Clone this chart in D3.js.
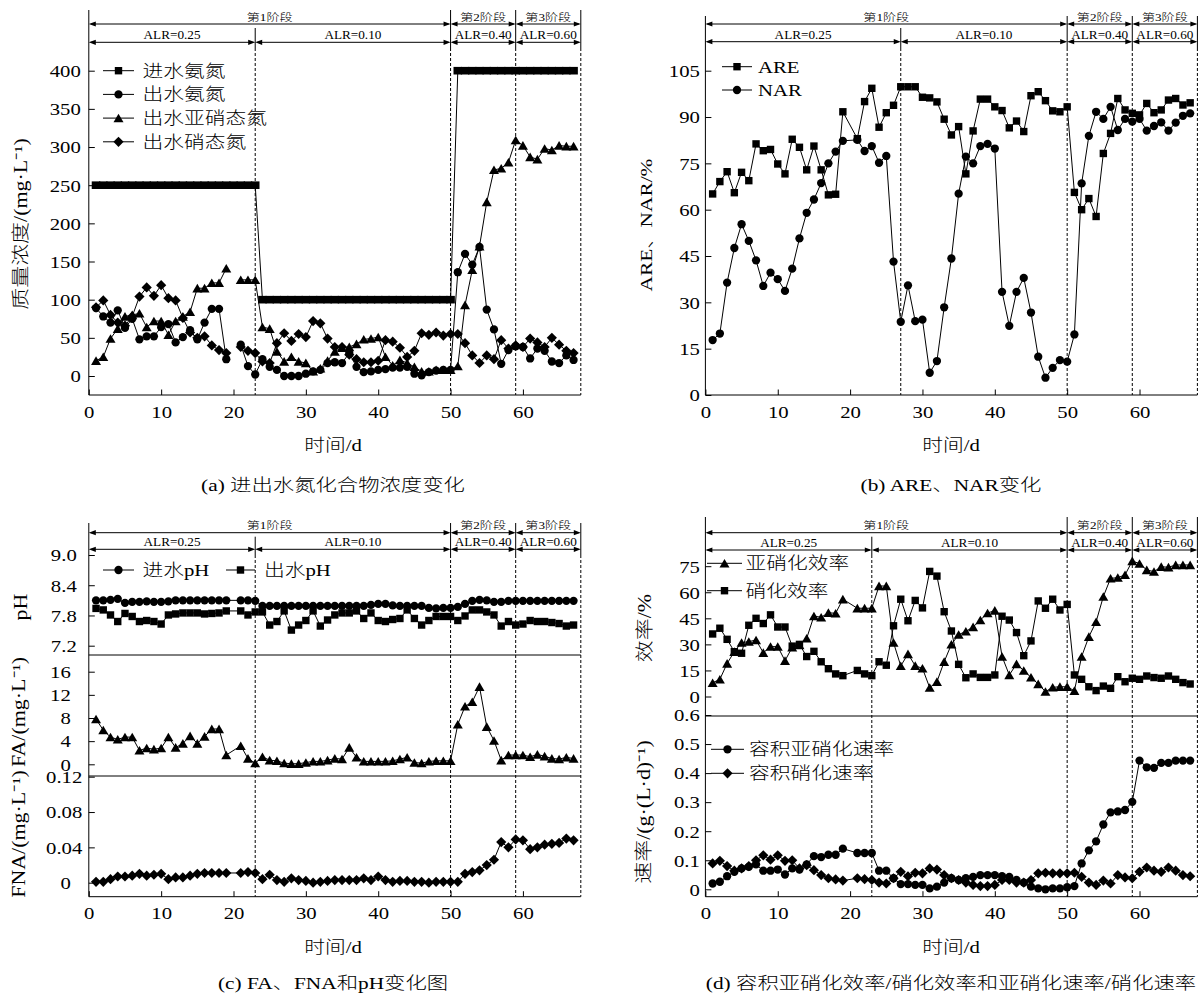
<!DOCTYPE html>
<html><head><meta charset="utf-8">
<script src="https://cdn.jsdelivr.net/npm/d3@7/dist/d3.min.js"></script>
<style>html,body{margin:0;padding:0;background:#fff;} svg{display:block}</style>
</head><body>
<svg id="chart" width="1200" height="996" xmlns="http://www.w3.org/2000/svg"></svg>
<script>
// ---------------- DATA ----------------
const DAYS = d3.range(1, 68);            // day 1 .. 67
const X_TICKS = [0, 10, 20, 30, 40, 50, 60];
const STAGES = ['第1阶段', '第2阶段', '第3阶段'];
const ALR_LABELS = ['ALR=0.25', 'ALR=0.10', 'ALR=0.40', 'ALR=0.60'];

// (a) nitrogen concentrations, mg/L
const inNH4 = [250,250,250,250,250,250,250,250,250,250,
  250,250,250,250,250,250,250,250,250,250,
  250,250,250,100,100,100,100,100,100,100,
  100,100,100,100,100,100,100,100,100,100,
  100,100,100,100,100,100,100,100,100,100,
  400,400,400,400,400,400,400,400,400,400,
  400,400,400,400,400,400,400];
const outNH4 = [89,78,70,86,63,75,48,52,52,64,
  68,44,51,60,48,70,88,88,22,null,
  41,13,2,22,12,8,0,0,0,3,
  6,8,17,18,17,30,12,5,6,8,
  9,11,11,12,3,1,5,7,8,8,
  136,160,146,169,87,61,16,34,39,38,
  23,36,33,19,17,27,21];
const outNO2 = [20,25,49,62,78,80,82,64,72,72,
  54,72,78,84,115,115,122,122,141,null,
  126,126,126,64,62,32,19,25,19,17,
  6,10,20,32,37,38,42,48,49,51,
  25,14,21,17,12,6,6,8,8,8,
  13,93,139,170,228,270,272,280,309,302,
  287,284,298,296,302,301,301];
const outNO3 = [90,99,80,70,66,78,104,116,105,119,
  102,99,76,57,50,52,40,34,30,null,
  38,33,30,19,17,43,56,46,55,51,
  72,69,49,38,38,28,22,18,18,20,
  47,45,37,25,33,56,54,57,53,55,
  55,43,27,17,27,22,47,36,40,38,
  49,44,38,50,41,33,30];

// (b) ARE / NAR, %
const ARE = [65.1,69.1,72.3,65.5,72.1,69.4,81.3,79.1,79.5,74.8,
  71.6,82.8,80.2,72.9,80.6,72.9,64.8,65.0,91.7,null,
  83.0,95.0,99.3,86.7,91.4,93.8,99.8,99.8,99.8,96.4,
  96.2,94.9,89.3,84.2,86.9,71.6,85.5,95.8,95.8,93.3,
  92.1,86.5,88.7,85.3,96.9,98.2,95.3,92.0,91.7,93.3,
  65.6,60.0,63.6,57.8,78.2,84.7,96.0,92.3,91.2,90.7,
  94.4,91.4,92.3,95.5,96.0,93.9,94.6];
const NAR = [17.8,19.9,36.4,47.6,55.3,49.9,43.6,35.3,39.6,37.5,
  33.7,40.9,50.7,59.0,63.3,68.6,75.0,78.8,82.3,null,
  82.6,79.0,80.6,75.2,77.4,43.2,23.7,35.5,23.9,24.4,
  7.2,11.0,28.4,44.2,65.2,77.2,75.0,80.6,81.3,79.8,
  33.4,22.4,33.4,37.9,26.7,12.4,5.6,8.8,11.3,10.8,
  19.6,68.5,83.9,91.7,89.4,93.3,85.8,89.4,88.5,89.4,
  85.6,87.1,88.3,85.6,88.2,90.4,91.2];

// (c) pH, FA, FNA
const pHin = [8.10,8.10,8.11,8.13,8.05,8.07,8.07,8.08,8.07,8.07,
  8.08,8.10,8.10,8.10,8.10,8.10,8.10,8.10,8.10,null,
  8.10,8.10,8.09,7.99,7.99,7.99,7.99,7.99,7.99,7.99,
  7.99,7.99,7.99,7.99,7.99,7.99,7.99,7.99,8.01,8.03,
  8.03,8.00,7.99,7.99,7.99,7.99,7.95,7.94,7.95,7.95,
  7.97,8.03,8.09,8.11,8.10,8.07,8.07,8.09,8.09,8.09,
  8.09,8.09,8.09,8.09,8.09,8.09,8.09];
const pHout = [7.94,7.91,7.81,7.68,7.84,7.78,7.68,7.70,7.68,7.63,
  7.81,7.83,7.85,7.85,7.85,7.83,7.84,7.85,7.89,null,
  7.89,7.81,7.87,7.87,7.61,7.68,7.89,7.51,7.61,7.70,
  7.89,7.59,7.71,7.81,7.85,7.85,7.89,7.74,7.85,7.70,
  7.68,7.72,7.74,7.91,7.74,7.61,7.70,7.78,7.78,7.78,
  7.70,7.79,7.91,7.91,7.87,7.81,7.59,7.68,7.61,7.63,
  7.70,7.68,7.68,7.66,7.64,7.59,7.61];
const FA = [7.8,5.9,4.7,4.3,4.7,4.7,2.4,2.8,2.6,2.8,
  4.7,2.9,3.6,4.9,3.6,4.8,6.1,6.1,1.6,null,
  3.2,1.0,0.2,1.3,0.7,0.6,0.2,0.1,0.1,0.3,
  0.5,0.5,0.7,1.0,0.9,2.9,1.2,0.5,0.5,0.5,
  0.5,0.6,0.9,1.2,0.3,0.2,0.5,0.6,0.6,0.6,
  6.9,10.0,10.8,13.4,6.5,4.1,0.7,1.6,1.6,1.6,
  1.3,1.7,1.4,1.0,0.9,1.2,1.0];
const FNA = [0.001,0.001,0.004,0.007,0.007,0.008,0.010,0.008,0.009,0.010,
  0.004,0.006,0.006,0.008,0.010,0.011,0.011,0.011,0.011,null,
  0.011,0.012,0.011,0.004,0.009,0.003,0.001,0.005,0.003,0.002,
  0.000,0.001,0.002,0.003,0.003,0.003,0.003,0.005,0.003,0.007,
  0.003,0.001,0.002,0.002,0.001,0.001,0.000,0.001,0.001,0.001,
  0.001,0.010,0.012,0.014,0.020,0.026,0.046,0.040,0.049,0.048,
  0.038,0.040,0.043,0.044,0.045,0.050,0.048];

// (d) efficiencies (%) and volumetric rates (g/(L·d))
const nitriteEff = [7.9,9.9,19.0,25.8,31.0,31.6,32.5,25.2,28.7,28.7,
  20.6,28.3,29.6,33.5,46.3,45.6,48.2,47.9,56.0,null,
  50.8,50.8,50.8,63.6,63.6,31.0,17.6,24.5,17.7,16.2,
  5.1,8.5,20.0,30.0,35.6,37.5,40.0,44.0,48.0,49.5,
  23.0,12.4,18.7,14.9,11.0,7.2,2.8,5.3,5.6,5.6,
  3.3,23.0,34.4,43.0,57.5,68.0,68.4,70.0,78.0,76.5,
  72.8,71.9,74.7,74.4,75.7,75.7,75.7];
const nitrateEff = [36.0,39.3,32.9,25.8,24.9,41.0,45.0,42.0,47.0,40.0,
  40.0,29.0,30.0,23.0,26.0,20.0,16.0,13.0,12.0,null,
  15.0,13.0,12.0,20.0,18.0,40.7,56.0,43.6,55.3,51.0,
  72.0,69.3,48.8,37.7,18.5,10.8,13.0,11.0,11.0,12.4,
  46.2,44.0,36.8,23.5,32.0,55.0,50.8,56.0,49.8,53.0,
  12.4,9.9,5.6,3.4,6.0,4.7,11.4,8.5,10.5,9.9,
  11.8,10.9,10.5,11.8,9.9,8.0,7.2];
const nitriteRate = [0.020,0.026,0.045,0.060,0.072,0.077,0.086,0.064,0.064,0.068,
  0.051,0.072,0.068,0.086,0.114,0.111,0.119,0.119,0.140,null,
  0.125,0.125,0.125,0.064,0.064,0.038,0.018,0.018,0.015,0.015,
  0.003,0.009,0.023,0.038,0.032,0.038,0.043,0.049,0.049,0.049,
  0.045,0.043,0.032,0.023,0.009,0.003,0.000,0.003,0.003,0.007,
  0.011,0.089,0.134,0.165,0.223,0.265,0.268,0.273,0.301,0.443,
  0.420,0.418,0.435,0.435,0.443,0.443,0.443];
const nitrateRate = [0.089,0.098,0.080,0.064,0.072,0.080,0.100,0.117,0.102,0.117,
  0.098,0.100,0.072,0.083,0.066,0.049,0.038,0.034,0.030,null,
  0.038,0.035,0.032,0.023,0.020,0.038,0.060,0.045,0.057,0.055,
  0.072,0.068,0.049,0.038,0.032,0.023,0.015,0.011,0.011,0.015,
  0.032,0.032,0.023,0.023,0.032,0.055,0.057,0.055,0.055,0.055,
  0.057,0.043,0.023,0.015,0.030,0.020,0.049,0.041,0.038,0.060,
  0.075,0.064,0.060,0.075,0.064,0.049,0.045];

// ---------------- DRAWING ----------------
const FONT = "'Liberation Serif','Times New Roman','Noto Sans CJK SC','Noto Sans CJK JP',serif";
const SX = 1.22;     // horizontal stretch of the original lettering
const W = 492;
const svg = d3.select('#chart');

const SHAPES = {
  square: 'M-3.7,-3.7H3.7V3.7H-3.7Z',
  bar: 'M-4.3,-3.8H4.3V3.8H-4.3Z',
  circle: d3.symbol(d3.symbolCircle, 54)(),
  triangle: 'M0,-4.4L5,4.2L-5,4.2Z',
  diamond: 'M0,-5.1L5.1,0L0,5.1L-5.1,0Z'
};

function makeX(L) { return d3.scaleLinear().domain([0, 68]).range([L, L + W]); }

function text(g, x, y, s, o = {}) {
  return g.append('text')
    .attr('transform', `translate(${x},${y})` + (o.rot ? ' rotate(-90)' : '') + ` scale(${o.sx || SX},1)`)
    .attr('text-anchor', o.anchor || 'middle')
    .attr('dominant-baseline', o.base || 'auto')
    .attr('fill', '#000')
    .style('font-family', FONT)
    .style('font-weight', 300)
    .style('font-size', (o.size || 17) + 'px')
    .text(s);
}

function ln(g, x1, y1, x2, y2, dash) {
  return g.append('line').attr('x1', x1).attr('y1', y1).attr('x2', x2).attr('y2', y2)
    .attr('stroke', '#000').attr('stroke-width', 1)
    .attr('stroke-dasharray', dash ? '3,2' : null);
}

function arrow(g, x1, x2, y) {
  ln(g, x1 + 2, y, x2 - 2, y);
  g.append('path').attr('d', `M${x1},${y}L${x1 + 7},${y - 2.6}L${x1 + 7},${y + 2.6}Z`).attr('fill', '#000');
  g.append('path').attr('d', `M${x2},${y}L${x2 - 7},${y - 2.6}L${x2 - 7},${y + 2.6}Z`).attr('fill', '#000');
}

function frame(g, x, c) {
  const L = x(0), R = x(68);
  [50, 59, 68].forEach(d => { ln(g, x(d), c.top, x(d), c.hb); ln(g, x(d), c.hb, x(d), c.bottom, true); });
  ln(g, x(c.alr), c.a1 + 4, x(c.alr), c.hb); ln(g, x(c.alr), c.hb, x(c.alr), c.bottom, true);
  ln(g, L, c.top, L, c.bottom);
  ln(g, L, c.bottom, R, c.bottom);
  const st = [[0, 50], [50, 59], [59, 68]];
  st.forEach(([a, b], i) => {
    arrow(g, x(a), x(b), c.a1);
    text(g, (x(a) + x(b)) / 2, c.a1 - 3.5, STAGES[i], { size: 10.5, sx: 1.25 });
  });
  const al = [[0, c.alr], [c.alr, 50], [50, 59], [59, 68]];
  al.forEach(([a, b], i) => {
    arrow(g, x(a), x(b), c.a2);
    text(g, (x(a) + x(b)) / 2, c.a2 - 3, ALR_LABELS[i], { size: 11.5, sx: 1.15 });
  });
}

function xAxis(g, x, y0, off) {
  const ax = d3.axisBottom(x).tickValues(X_TICKS).tickFormat(d3.format('d'))
    .tickSize(-5.5).tickSizeOuter(0).tickPadding(0);
  const a = g.append('g').attr('transform', `translate(0,${y0})`).call(ax);
  a.select('.domain').remove();
  a.selectAll('.tick line').attr('stroke', '#000');
  a.selectAll('.tick text').attr('y', null).attr('dy', null).attr('fill', '#000')
    .attr('dominant-baseline', 'central')
    .attr('transform', `translate(0,${off}) scale(${SX},1)`)
    .style('font-family', FONT).style('font-size', '17px');
}

function yAxis(g, L, y, ticks, fmt, dx) {
  const ax = d3.axisLeft(y).tickValues(ticks).tickFormat(fmt)
    .tickSize(-6).tickSizeOuter(0).tickPadding(0);
  const a = g.append('g').attr('transform', `translate(${L},0)`).call(ax);
  a.select('.domain').remove();
  a.selectAll('.tick line').attr('stroke', '#000');
  a.selectAll('.tick text').attr('x', null).attr('dy', null).attr('fill', '#000')
    .attr('text-anchor', 'end').attr('dominant-baseline', 'central')
    .attr('transform', d => `translate(${dx(d)},0) scale(${SX},1)`)
    .style('font-family', FONT).style('font-size', '17px');
}

function series(g, x, y, vals, shape, gap) {
  const pts = DAYS.map((d, i) => ({ d, v: vals[i] }));
  const valid = pts.filter(p => p.v != null);
  const line = d3.line().x(p => x(p.d)).y(p => y(p.v));
  if (gap) line.defined(p => p.v != null);
  g.append('path').attr('d', line(gap ? pts : valid))
    .attr('fill', 'none').attr('stroke', '#000').attr('stroke-width', 1);
  g.append('g').selectAll('path').data(valid).join('path')
    .attr('d', SHAPES[shape]).attr('fill', '#000')
    .attr('transform', p => `translate(${x(p.d)},${y(p.v)})`);
}

function legendItem(g, x1, x2, y, shape, label, tx) {
  ln(g, x1, y, x2, y);
  g.append('path').attr('d', SHAPES[shape]).attr('fill', '#000')
    .attr('transform', `translate(${(x1 + x2) / 2},${y})`);
  text(g, tx, y, label, { anchor: 'start', base: 'central', size: 17 });
}

const intFmt = d3.format('d');

// ---------- Panel (a) ----------
{
  const L = 88.8, x = makeX(L), g = svg.append('g');
  const y = d3.scaleLinear().domain([0, 400]).range([376, 70.7]);
  frame(g, x, { top: 10, bottom: 395, a1: 24, a2: 42.3, hb: 48, alr: 23 });
  series(g, x, y, inNH4, 'bar', true);
  series(g, x, y, outNH4, 'circle', true);
  series(g, x, y, outNO2, 'triangle', true);
  series(g, x, y, outNO3, 'diamond', true);
  yAxis(g, L, y, [0, 50, 100, 150, 200, 250, 300, 350, 400], intFmt, () => -8);
  xAxis(g, x, 395, 17);
  const LEG = [['square', '进水氨氮'], ['circle', '出水氨氮'], ['triangle', '出水亚硝态氮'], ['diamond', '出水硝态氮']];
  LEG.forEach(([s, t], i) => legendItem(g, 103, 134, 70.7 + i * 23.7, s, t, 142.5));
  text(g, 21, 224, '质量浓度/(mg·L⁻¹)', { rot: true, base: 'central', size: 18 });
  text(g, 333, 445, '时间/d', { base: 'central', size: 17 });
  text(g, 333, 485, '(a) 进出水氮化合物浓度变化', { base: 'central', size: 17.5 });
}

// ---------- Panel (b) ----------
{
  const L = 705.4, x = makeX(L), g = svg.append('g');
  const y = d3.scaleLinear().domain([0, 105]).range([395, 70.7]);
  frame(g, x, { top: 16, bottom: 395, a1: 24, a2: 41.7, hb: 48, alr: 27 });
  series(g, x, y, ARE, 'square', false);
  series(g, x, y, NAR, 'circle', false);
  yAxis(g, L, y, [0, 15, 30, 45, 60, 75, 90, 105], intFmt, () => -5.5);
  xAxis(g, x, 395, 17);
  legendItem(g, 722, 752, 66.7, 'square', 'ARE', 758);
  legendItem(g, 722, 752, 90, 'circle', 'NAR', 758);
  text(g, 646, 225, 'ARE、NAR/%', { rot: true, base: 'central', size: 17.5 });
  text(g, 951, 445, '时间/d', { base: 'central', size: 17 });
  text(g, 951, 485, '(b) ARE、NAR变化', { base: 'central', size: 17.5 });
}

// ---------- Panel (c) ----------
{
  const L = 88.8, x = makeX(L), g = svg.append('g');
  const yPH = d3.scaleLinear().domain([7.2, 9.0]).range([645.7, 555.0]);
  const yFA = d3.scaleLinear().domain([0, 16]).range([764.3, 671.7]);
  const yFNA = d3.scaleLinear().domain([0, 0.12]).range([882.7, 776.7]);
  frame(g, x, { top: 523, bottom: 896.7, a1: 532.7, a2: 549.3, hb: 555, alr: 23 });
  ln(g, L, 655, L + W, 655);
  ln(g, L, 776, L + W, 776);
  series(g, x, yPH, pHin, 'circle', false);
  series(g, x, yPH, pHout, 'square', false);
  series(g, x, yFA, FA, 'triangle', false);
  series(g, x, yFNA, FNA, 'diamond', false);
  yAxis(g, L, yPH, [7.2, 7.8, 8.4, 9.0], d3.format('.1f'), () => -12);
  yAxis(g, L, yFA, [0, 4, 8, 12, 16], intFmt, () => -18);
  yAxis(g, L, yFNA, [0, 0.04, 0.08, 0.12], d => d === 0 ? '0' : d.toFixed(2), d => d === 0 ? -18 : -6.5);
  xAxis(g, x, 896.7, 16.6);
  legendItem(g, 103, 134, 570, 'circle', '进水pH', 142.5);
  legendItem(g, 226, 255, 570, 'square', '出水pH', 264);
  text(g, 21, 607, 'pH', { rot: true, base: 'central', size: 18 });
  text(g, 19, 712, 'FA/(mg·L⁻¹)', { rot: true, base: 'central', size: 18 });
  text(g, 19, 834, 'FNA/(mg·L⁻¹)', { rot: true, base: 'central', size: 18 });
  text(g, 333, 947, '时间/d', { base: 'central', size: 17 });
  text(g, 333, 983, '(c) FA、FNA和pH变化图', { base: 'central', size: 17.5 });
}

// ---------- Panel (d) ----------
{
  const L = 705.4, x = makeX(L), g = svg.append('g');
  const yE = d3.scaleLinear().domain([0, 75]).range([696.5, 566.2]);
  const yR = d3.scaleLinear().domain([0, 0.6]).range([889.3, 715]);
  frame(g, x, { top: 517, bottom: 896.7, a1: 532.7, a2: 550, hb: 555, alr: 23 });
  ln(g, L, 716, L + W, 716);
  series(g, x, yE, nitriteEff, 'triangle', false);
  series(g, x, yE, nitrateEff, 'square', false);
  series(g, x, yR, nitriteRate, 'circle', false);
  series(g, x, yR, nitrateRate, 'diamond', false);
  yAxis(g, L, yE, [0, 15, 30, 45, 60, 75], intFmt, () => -5.5);
  yAxis(g, L, yR, [0, 0.1, 0.2, 0.3, 0.4, 0.5, 0.6], d => d === 0 ? '0' : d.toFixed(1), () => -5.5);
  xAxis(g, x, 896.7, 16.6);
  legendItem(g, 707, 742, 563.3, 'triangle', '亚硝化效率', 745.6);
  legendItem(g, 707, 742, 590.7, 'square', '硝化效率', 745.6);
  legendItem(g, 711, 744, 749.3, 'circle', '容积亚硝化速率', 749);
  legendItem(g, 711, 744, 773.3, 'diamond', '容积硝化速率', 749);
  text(g, 645, 628, '效率/%', { rot: true, base: 'central', size: 18 });
  text(g, 644, 812, '速率/(g·(L·d)⁻¹)', { rot: true, base: 'central', size: 18 });
  text(g, 951, 947, '时间/d', { base: 'central', size: 17 });
  text(g, 951, 983, '(d) 容积亚硝化效率/硝化效率和亚硝化速率/硝化速率', { base: 'central', size: 17.5 });
}
</script>
</body></html>
